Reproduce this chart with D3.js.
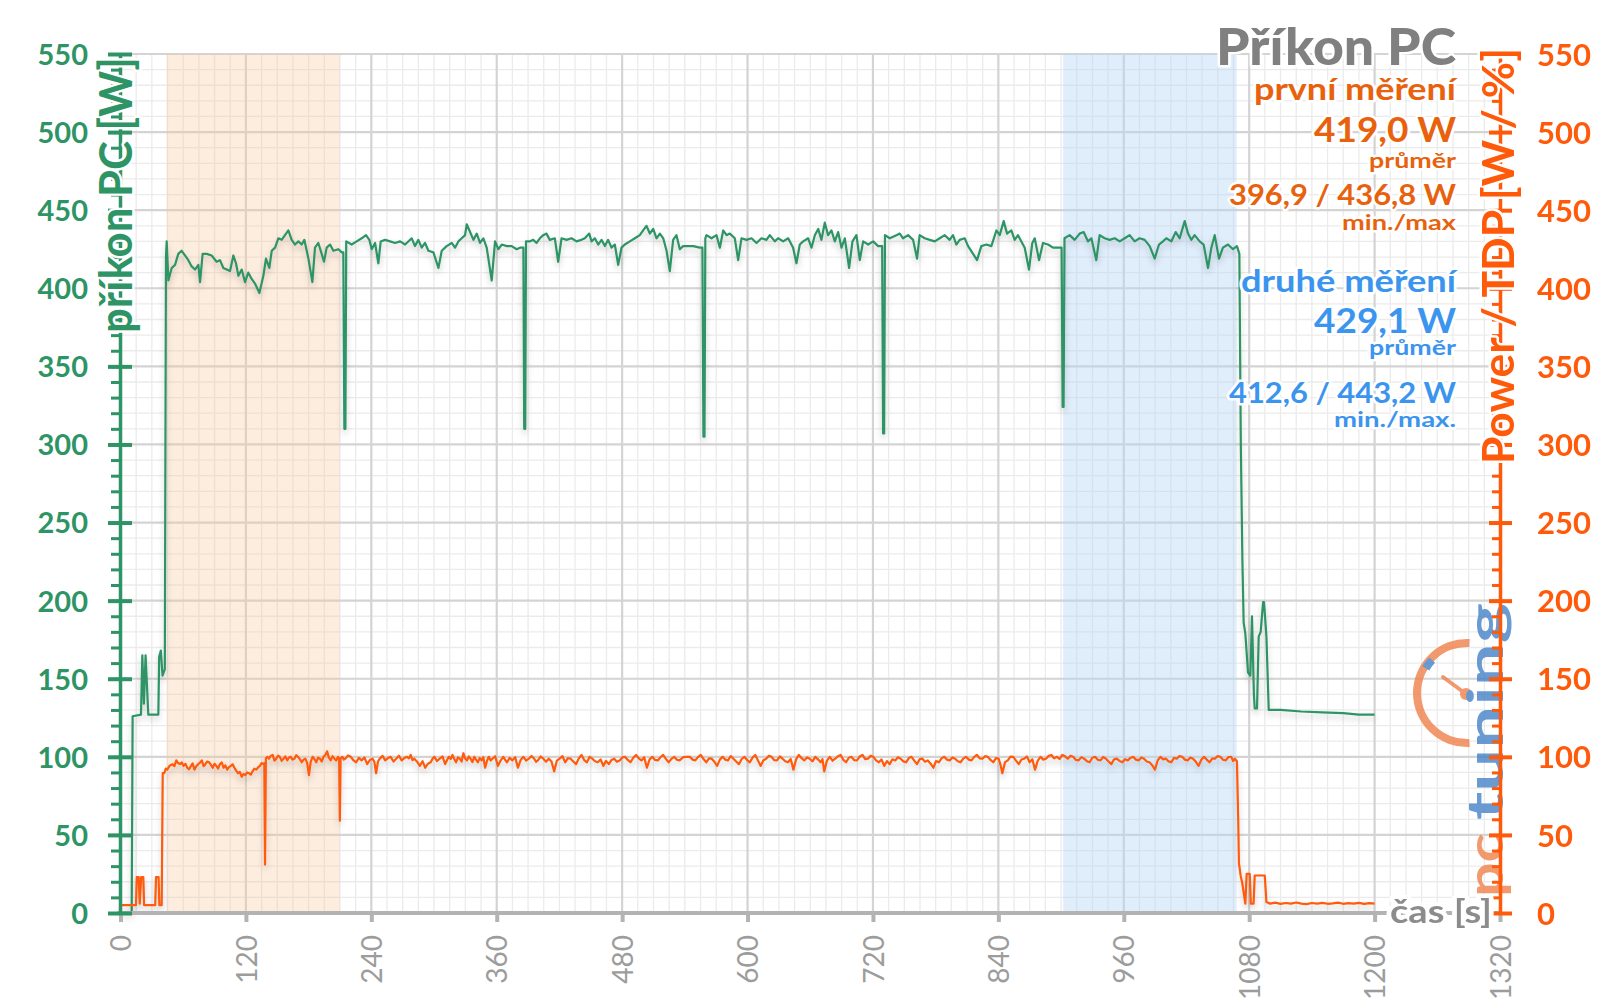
<!DOCTYPE html>
<html><head><meta charset="utf-8">
<script src="https://cdn.jsdelivr.net/npm/d3@7"></script>
<style>
body{margin:0;background:#fff;}
svg{display:block;font-family:Lato,"Open Sans",sans-serif;}
</style>
</head><body>
<svg id="c" width="1600" height="1008"></svg>
<script>
// ---------- data ----------
const xTicks = [0,120,240,360,480,600,720,840,960,1080,1200,1320];
const yTicks = [0,50,100,150,200,250,300,350,400,450,500,550];
const orangeBand = [44, 210];
const blueBand = [902, 1068];

const greenData = [[0,0],[10.7,0],[11.6,126],[19.6,127],[20.9,165],[22.4,134],[24,165],[26.6,127],[36.2,127],[37,164],[38.6,168],[40.2,152],[42.4,156],[43.5,420],[44.2,430],[45.8,405],[49,413],[52.2,415],[55.3,422],[58.5,424],[61.7,421],[64.9,418],[68.1,414],[71.3,412],[74.5,415],[76.1,404],[78.6,422],[82.5,422],[87.2,421],[92,417],[95.2,418],[98.4,413],[101.6,412],[104.8,411],[108,421],[110.5,416],[112.8,408],[116,412],[119.1,404],[122.3,410],[125.5,406],[128.7,403],[132.9,397],[136.7,408],[139.2,419],[142.4,413],[144.7,424],[147.9,426],[151,432],[154.2,431],[157.4,434],[160.6,437],[163.8,431],[167,428],[170.2,430],[173.4,428],[175.9,431],[179.8,419],[183.6,404],[186.1,426],[189.3,429],[192.5,422],[194.7,417],[197.3,426],[200.5,428],[203.7,424],[208.5,425],[211.7,423],[213.2,423],[214.2,310],[215.2,310],[216,430],[221.2,428],[226,430],[230.8,432],[234.9,434],[238.1,431],[240.4,425],[243.6,429],[246.7,416],[249,430],[253.1,431],[257.9,430],[262.7,429],[267.5,430],[272.3,428],[275.4,430],[278.6,432],[281.8,427],[285,431],[288.2,426],[291.4,429],[294.6,424],[299.4,423],[304.2,413],[307.4,424],[312.1,427],[316.9,429],[320.1,426],[323.3,430],[326.5,432],[329.7,434],[331.3,441],[334.5,436],[337.7,431],[340.9,435],[344,429],[347.2,432],[350.4,426],[355.2,405],[358.4,430],[361.6,425],[364.8,428],[369.6,427],[374.3,427],[379.1,425],[382.3,426],[385.5,426],[386.3,310],[387.3,310],[388,430],[391.7,430],[394.9,431],[398.1,429],[401.3,432],[404.5,434],[407.6,435],[410.8,431],[415.6,432],[418.8,417],[422,432],[426.8,431],[431.6,432],[436.3,430],[441.1,431],[444.3,432],[448.5,435],[450.7,430],[453.9,432],[457.1,428],[460.3,431],[463.5,427],[466.6,431],[469.8,426],[473,428],[476.2,415],[479.4,426],[482.6,428],[487.4,430],[492.2,432],[496.9,434],[500.1,437],[503.3,440],[506.5,435],[509.7,438],[512.9,432],[516.1,435],[519.3,432],[522.5,424],[525.6,411],[528.8,431],[532,434],[535.2,425],[538.4,427],[543.2,427],[548,427],[554.3,426],[556.8,426],[557.8,305],[558.8,305],[559.6,432],[560.7,434],[565.5,432],[570.3,434],[573.5,426],[576.7,437],[579.9,434],[583,435],[587.8,432],[591,418],[594.2,432],[599,431],[603.8,432],[608.6,429],[613.3,432],[618.1,431],[621.3,434],[626.1,430],[629.3,432],[634.1,430],[638.9,432],[643.6,426],[646.8,416],[650,428],[653.2,430],[658,432],[661.2,426],[664.4,434],[667.6,438],[670.7,431],[673.9,442],[677.1,434],[680.3,437],[683.5,430],[686.7,436],[689.9,426],[693.1,432],[697.2,413],[700.4,430],[704.2,434],[707.4,418],[710.6,430],[715.4,428],[720.2,430],[724.9,427],[728.8,427],[729.7,307],[730.7,307],[731.5,434],[736.1,432],[742.5,434],[745.6,435],[748.8,432],[753.6,434],[758.4,431],[762.2,419],[764.7,434],[769.5,432],[774.3,431],[779.1,430],[783.9,432],[788.7,434],[793.4,431],[796.6,434],[799.8,428],[803,431],[807.8,432],[811,427],[815.8,422],[819.6,418],[823.7,427],[828.5,428],[833.3,427],[838.1,437],[841.3,434],[845.1,443],[848.3,435],[852.4,437],[855.6,431],[858.8,434],[862,430],[865.2,426],[869.3,412],[872.5,429],[874.8,432],[878.9,418],[882.7,429],[887.5,428],[892.3,426],[897.1,426],[900.5,426],[901.5,324],[902.4,324],[903.3,432],[908.2,434],[913,431],[917.8,435],[921.6,436],[925.8,430],[929,432],[933.7,418],[936.9,434],[941.7,432],[946.5,431],[951.3,432],[956.1,430],[960.9,432],[965.6,434],[970.4,430],[975.2,432],[980,431],[984.8,427],[989.6,419],[993.7,428],[997.5,430],[1000.7,432],[1005.5,430],[1009.7,436],[1013.5,432],[1018.3,443],[1021.5,435],[1024.6,431],[1027.8,434],[1032.6,430],[1036.4,428],[1040.6,413],[1043.8,426],[1047,434],[1051.1,419],[1054.9,426],[1059.7,428],[1064.5,425],[1068.3,427],[1070.6,422],[1072,300],[1073.5,226],[1074.7,186],[1076.3,179],[1078.9,154],[1081.1,152],[1082.7,190],[1084.5,140],[1085.3,131],[1087.5,131],[1089.1,177],[1091,180],[1093.3,199],[1094.2,199],[1096.5,177],[1098.7,130],[1110,130],[1130,129],[1150,128.5],[1170,128],[1185,127],[1200,127]];

const orangeData = [[0,5],[14.8,5],[15.6,23],[17.4,23],[18.4,6],[19.8,23],[21.8,23],[22.6,5],[33.2,5],[34,23],[36.4,23],[37.2,5],[39.4,5],[40.4,89.5],[41.9,89.5],[43.3,92.5],[44.7,91.8],[47.3,94.5],[49.9,95.3],[51.6,94],[53.4,97.7],[55.1,96],[56.9,95.3],[58.6,96.4],[60.4,94.2],[62.1,95.5],[63.9,93],[65.6,92],[67.3,94],[69,95.8],[70.8,91.8],[72.5,94],[74.3,95.3],[76,96.2],[77.8,97.7],[79.5,94],[81.2,95.3],[83,97],[84.7,96.5],[86.4,95],[88.2,93],[90,95.5],[91.7,94.2],[93.4,92.5],[95.1,95.3],[96.9,96.4],[98.6,93],[100.3,94.5],[102.1,91.8],[103.8,93.4],[105.6,94.2],[107.3,95.2],[109,93],[110.8,91],[112.5,89.5],[114.2,90.4],[116,87.2],[117.7,89],[119.5,88.3],[121.2,90],[122.9,89.5],[124.7,88.6],[126.4,90.7],[128.1,92.4],[129.9,91.8],[131.6,93.2],[133.4,94.2],[135.1,96],[136.9,95.3],[137.6,96],[138.3,31],[139.1,99],[140.6,100],[142.1,98.8],[143.8,100.6],[145.6,101.2],[147.3,97.5],[149,98.8],[150.8,100.8],[152.5,100],[154.2,97.4],[156,98.8],[157.7,100.3],[159.5,97.7],[161.2,99.5],[162.9,100],[164.6,98.2],[166.4,98.8],[168.1,101],[169.9,100],[171.6,98.5],[173.4,96.5],[175.1,98.2],[176.9,98.8],[178.6,96],[180.3,88.3],[182,96.8],[183.8,100],[185.5,98.6],[187.3,96.5],[189,99.5],[190.8,98.8],[192.5,97],[194.2,100],[196,101.2],[197.7,103.5],[199.4,99.5],[201.2,97.7],[202.9,100.4],[204.7,98.8],[206.4,97.6],[208.1,100],[209.2,99],[209.9,59],[210.6,99],[212.3,100],[213.7,98.2],[215.1,98.8],[217.7,100.9],[220.3,100],[222.9,97.8],[225.5,96.5],[228.1,99.3],[230.7,97.7],[233.4,99.6],[236,95.3],[238.6,97.9],[241.2,98.8],[242.9,96.8],[244.6,89.5],[246.4,97],[248.1,98.8],[250.7,100.6],[253.3,97.7],[255.9,99.2],[258.5,100],[261.2,97],[263.8,98.8],[266.4,100.7],[269,97.7],[271.6,99.2],[274.2,100],[276,99],[277.7,101.2],[279.4,97.8],[281.2,98.8],[283.8,96.9],[286.4,94.2],[289,97.2],[291.6,93],[294.2,95.6],[296.8,96.5],[298.6,98.7],[300.3,100],[302.9,97.3],[305.5,98.8],[308.1,100.3],[310.7,95.3],[312.5,98],[314.2,100],[316,98.6],[317.7,101.2],[319.4,98.5],[321.1,96.5],[322.9,99.6],[324.6,98.8],[326.4,97],[328.1,102.3],[329.8,99],[331.6,97.7],[333.3,100.2],[335,98.8],[336.8,96.6],[338.5,100],[340.2,98.2],[342,96.5],[343.7,99.3],[345.5,97.7],[347.2,99.8],[348.9,93],[350.7,97.5],[352.4,100],[354.2,97.6],[355.9,98.8],[358.5,100.4],[361.1,94.2],[363.7,97.6],[366.3,100],[368,98.1],[369.8,96.5],[372.4,99.3],[375,97.7],[377.6,99.8],[380.3,93],[382.9,98],[385.5,100],[388.1,97.6],[390.7,98.8],[393.3,100.5],[395.9,98.8],[397.6,96.8],[399.4,97.7],[402,100.2],[404.6,98.8],[407.2,96.9],[409.8,98.8],[412.4,97],[415,90.7],[417.6,97.6],[420.2,98.8],[422.9,100.4],[425.5,96.5],[428.1,99.1],[430.7,98.8],[433.3,97],[435.9,95.3],[438.5,99],[441.1,101.2],[443.7,97.9],[446.3,96.5],[448.9,100],[451.5,98.8],[454.1,97.2],[456.7,96.5],[459.4,98.3],[462,94.2],[464.6,97.4],[467.2,95.3],[469.8,98],[472.4,98.8],[475,96.8],[477.6,97.7],[480.2,99.6],[482.8,100],[485.4,98],[488,96.5],[490.7,99.4],[493.3,101.2],[495.9,99],[498.5,97.7],[501.1,99.7],[503.7,93],[506.3,98.4],[508.9,100],[511.5,98],[514.1,97.7],[516.7,99.7],[519.3,101.2],[521.9,98.6],[524.5,96.5],[527.2,98.7],[529.8,100],[532.4,98.1],[535,97.7],[538.5,99.8],[541.9,100],[544.8,100],[547.4,98.2],[550,97.7],[552.6,99.8],[555.2,101.2],[557.9,98.6],[560.5,96.5],[563.1,99],[565.7,98.8],[568.3,96.8],[570.9,94.2],[573.5,98.2],[576.1,100],[578.7,98.2],[581.3,97.7],[583.9,100.5],[586.5,98.8],[589.1,97],[591.7,95.3],[594.4,98.6],[597,100],[599.6,97.9],[602.2,96.5],[604.8,99.5],[607.4,101.2],[610,97.6],[612.6,94.2],[615.2,97.8],[617.8,98.8],[620.4,100.6],[623,100],[625.6,97.8],[628.2,97.7],[630.9,100.3],[633.5,98.8],[636.1,97.2],[638.7,96.5],[641.3,98.6],[643.9,91.8],[646.5,98.4],[649.1,101.2],[651.7,99.1],[654.3,97.7],[656.9,99.6],[659.5,98.8],[662.2,97.1],[664.8,100],[667.4,98.4],[670,96.5],[671.7,98.5],[673.4,90.7],[676,97.6],[678.7,100],[681.3,97.5],[683.9,98.8],[686.5,100.4],[689.1,101.2],[691.7,98],[694.3,96.5],[696.9,99.4],[699.5,100],[702.1,97.8],[704.7,97.7],[707.4,100.2],[710,101.2],[712.6,98.5],[715.2,98.8],[717.8,100.6],[720.4,100],[723,97.7],[725.6,96.5],[728.2,98.3],[730.8,94.2],[733.4,97.3],[736,95.3],[738.6,98.4],[741.3,97.7],[743.9,99.7],[746.5,98.8],[749.1,97.1],[751.7,96.5],[754.3,99.2],[756.9,100],[759.5,97.6],[762.1,95.3],[764.7,98.5],[767.3,98.8],[769.9,96.9],[772.5,97.7],[775.2,95.6],[777.8,93],[780.4,97.3],[783,96.5],[785.6,99],[788.2,100],[790.8,98.2],[793.4,97.7],[796,99.6],[798.6,98.8],[801.2,97.2],[803.8,96.5],[806.4,98.8],[809,100],[811.7,98.2],[814.3,97.7],[816.9,100],[819.5,101.2],[822.1,99],[824.7,98.8],[827.3,100.4],[829.9,100],[832.5,98],[835.1,96.5],[837.7,99.2],[840.3,98.8],[842,95],[843.8,89.5],[846.4,96.6],[849,97.7],[851.6,100.1],[854.2,100],[856.9,97.6],[859.5,95.3],[862.1,98.3],[864.7,98.8],[867.3,100.2],[869.9,96.5],[872.5,98.4],[875.1,91.8],[877.7,97.6],[880.3,100],[882.9,98.2],[885.5,98.8],[888.2,100.6],[890.8,101.2],[893.4,99],[896,100],[898.6,98.6],[901.2,101.2],[903.8,100.3],[906.4,98.8],[909,100.6],[911.6,100],[914.2,98],[916.8,97.7],[919.4,99.8],[922,98.8],[924.7,97.2],[927.3,96.5],[929.9,99.4],[932.5,100],[935.1,98.1],[937.7,97.7],[940.3,99.9],[942.9,98.8],[945.5,97],[948.1,95.3],[950.7,98.4],[953.3,98.8],[955.9,97.4],[958.6,96.5],[961.2,98.5],[963.8,97.7],[966.4,99.3],[969,100],[971.6,98.2],[974.2,97.7],[976.8,99.6],[979.4,98.8],[982,97],[984.6,96.5],[987.2,94.6],[989.8,91.8],[992.5,97.8],[995.1,100],[997.7,98.4],[1000.3,98.8],[1002.9,97.1],[1005.5,96.5],[1008.1,99.3],[1010.7,98.8],[1013.3,100.5],[1015.9,100],[1018.5,98.2],[1021.1,97.7],[1023.7,99.5],[1026.3,98.8],[1029,96.8],[1031.6,94.2],[1034.2,98.1],[1036.8,100],[1039.4,98.2],[1042,96.5],[1044.6,98.9],[1047.2,98.8],[1049.8,100.5],[1052.4,100],[1055,98.1],[1057.6,97.7],[1060.2,99.9],[1062.9,100],[1064.6,97.3],[1066.3,98.8],[1068.3,97],[1069.5,60],[1070.2,32],[1071.8,24],[1073.4,19],[1076.3,6],[1077.6,25],[1080.5,25],[1081.6,6],[1084.2,6],[1085.3,24],[1094.9,24],[1096.5,7],[1100,6],[1105,6.6],[1110,5.8],[1115,6.4],[1120,6],[1125,6.7],[1130,6],[1135,5.7],[1140,6.4],[1145,6],[1150,6.5],[1155,5.9],[1160,6.2],[1165,6.6],[1170,5.9],[1175,6.3],[1180,6],[1185,6.5],[1190,5.8],[1195,6.3],[1200,6]];

const titleText = "Příkon PC";
const run1Lines = ["první měření", "419,0 W", "průměr", "396,9 / 436,8 W", "min./max"];
const run2Lines = ["druhé měření", "429,1 W", "průměr", "412,6 / 443,2 W", "min./max."];
const leftTitle = "příkon PC [W]";
const rightTitle = "Power / TDP [W / %]";
const xTitle = "čas [s]";

// ---------- chart ----------
const svg = d3.select("#c");
const GREEN = "#2e9466", ORANGE = "#ff5a0a", RUN1 = "#e8620e", RUN2 = "#3b95ee";
const x = d3.scaleLinear().domain([0,1320]).range([120.5,1500]);
const y = d3.scaleLinear().domain([0,550]).range([913,54]);

const defs = svg.append("defs");
const f = defs.append("filter").attr("id","sh").attr("x","-2%").attr("y","-5%").attr("width","104%").attr("height","115%");
f.append("feDropShadow").attr("dx",0).attr("dy",4).attr("stdDeviation",3).attr("flood-color","#000").attr("flood-opacity",0.2);

// grid
const grid = svg.append("g");
grid.selectAll(".vmin").data(d3.range(0,1321,15)).join("line")
  .attr("x1",d=>x(d)).attr("x2",d=>x(d)).attr("y1",y(550)).attr("y2",y(0))
  .attr("stroke","#ebebeb").attr("stroke-width",1.3);
grid.selectAll(".hmin").data(d3.range(0,551,10)).join("line")
  .attr("x1",x(0)).attr("x2",x(1320)).attr("y1",d=>y(d)).attr("y2",d=>y(d))
  .attr("stroke","#ebebeb").attr("stroke-width",1.3);
grid.selectAll(".vmaj").data(xTicks).join("line")
  .attr("x1",d=>x(d)).attr("x2",d=>x(d)).attr("y1",y(550)).attr("y2",y(0))
  .attr("stroke","#d4d4d4").attr("stroke-width",2.2);
grid.selectAll(".hmaj").data(yTicks).join("line")
  .attr("x1",x(0)).attr("x2",x(1320)).attr("y1",d=>y(d)).attr("y2",d=>y(d))
  .attr("stroke","#d4d4d4").attr("stroke-width",2.2);

// bands
svg.append("rect").attr("x",x(orangeBand[0])).attr("width",x(orangeBand[1])-x(orangeBand[0]))
  .attr("y",y(550)).attr("height",y(0)-y(550)).attr("fill","#f9c89a").attr("opacity",0.32);
svg.append("rect").attr("x",x(blueBand[0])).attr("width",x(blueBand[1])-x(blueBand[0]))
  .attr("y",y(550)).attr("height",y(0)-y(550)).attr("fill","#b5d3f5").attr("opacity",0.42);

// logo
const logo = svg.append("g").attr("opacity",0.78);
const cx = 1467, cy = 693;
logo.append("path").attr("transform",`translate(${cx},${cy})`)
  .attr("d", d3.arc().innerRadius(46).outerRadius(54).startAngle(Math.PI-0.05).endAngle(2*Math.PI+0.05)())
  .attr("fill","#ef7d45");
logo.append("path").attr("transform",`translate(${cx},${cy})`)
  .attr("d", d3.arc().innerRadius(44).outerRadius(52).startAngle(5.25).endAngle(5.47)())
  .attr("fill","#3f7fc6");
logo.append("line").attr("x1",cx-1).attr("y1",cy+1).attr("x2",cx-24).attr("y2",cy-16)
  .attr("stroke","#ef7d45").attr("stroke-width",4).attr("stroke-linecap","round");
logo.append("circle").attr("cx",cx-1).attr("cy",cy+1).attr("r",6).attr("fill","#ef7d45");
logo.append("text").attr("transform","translate(1503,897) rotate(-90)")
  .attr("font-size",50).attr("font-weight",700).attr("fill","#ef7d45")
  .attr("textLength",64).attr("lengthAdjust","spacingAndGlyphs").text("pc");
logo.append("text").attr("transform","translate(1503,820) rotate(-90)")
  .attr("font-size",50).attr("font-weight",700).attr("fill","#3f7fc6")
  .attr("textLength",217).attr("lengthAdjust","spacingAndGlyphs").text("tuning");

// lines
const line = d3.line().x(d=>x(d[0])).y(d=>y(d[1]));
svg.append("path").datum(greenData).attr("d",line).attr("fill","none")
  .attr("stroke",GREEN).attr("stroke-width",2.2).attr("stroke-linejoin","round").attr("filter","url(#sh)");
svg.append("path").datum(orangeData).attr("d",line).attr("fill","none")
  .attr("stroke",ORANGE).attr("stroke-width",2.2).attr("stroke-linejoin","round").attr("filter","url(#sh)");

// bottom axis
const xAxis = svg.append("g").attr("transform",`translate(0,${y(0)})`)
  .call(d3.axisBottom(x).tickValues(xTicks).tickFormat(d3.format("d")).tickSizeInner(9).tickSizeOuter(0));
xAxis.select(".domain").attr("stroke","#b3b3b3").attr("stroke-width",4).attr("d",`M${x(0)-3},0H${x(1320)}`);
xAxis.selectAll(".tick line").attr("stroke","#b3b3b3").attr("stroke-width",4);
xAxis.selectAll(".tick text").attr("transform","rotate(-90)").attr("x",-22).attr("y",0).attr("dy","0.36em")
  .attr("text-anchor","end").attr("font-size",28).attr("font-family","Lato").attr("fill","#9c9c9c");

// left axis
const lMinor = svg.append("g").attr("transform",`translate(${x(0)-0.5},0)`)
  .call(d3.axisLeft(y).tickValues(d3.range(0,551,10)).tickSize(9).tickFormat(""));
lMinor.select(".domain").remove();
lMinor.selectAll(".tick line").attr("stroke",GREEN).attr("stroke-width",3);
const lAxis = svg.append("g").attr("transform",`translate(${x(0)-0.5},0)`)
  .call(d3.axisLeft(y).tickValues(yTicks).tickSizeInner(12).tickSizeOuter(0).tickPadding(20));
lAxis.select(".domain").attr("stroke",GREEN).attr("stroke-width",3.5);
lAxis.selectAll(".tick line").attr("x1",12).attr("x2",-12).attr("stroke",GREEN).attr("stroke-width",4);
lAxis.selectAll(".tick text").attr("font-size",29).attr("font-weight",700).attr("font-family","Lato")
  .attr("fill",GREEN).attr("dy","0.36em");

// right axis
const rMinor = svg.append("g").attr("transform",`translate(${x(1320)},0)`)
  .call(d3.axisLeft(y).tickValues(d3.range(0,551,10)).tickSize(8).tickFormat(""));
rMinor.select(".domain").remove();
rMinor.selectAll(".tick line").attr("stroke",ORANGE).attr("stroke-width",3);
const rAxis = svg.append("g").attr("transform",`translate(${x(1320)},0)`)
  .call(d3.axisRight(y).tickValues(yTicks).tickSizeInner(12).tickSizeOuter(0).tickPadding(25));
rAxis.select(".domain").attr("stroke",ORANGE).attr("stroke-width",3.5);
rAxis.selectAll(".tick line").attr("x1",-11).attr("x2",12).attr("stroke",ORANGE).attr("stroke-width",4);
rAxis.selectAll(".tick text").attr("font-size",31).attr("font-weight",700).attr("font-family","Lato")
  .attr("fill",ORANGE).attr("dy","0.36em");

// texts with halo
function halo(sel, sw){ return sel.attr("stroke","#fff").attr("stroke-width",sw).attr("stroke-linejoin","round").attr("paint-order","stroke"); }
function label(txt, px, py, size, color, len, rot, weight){
  const t = svg.append("text")
    .attr("transform", rot ? `translate(${px},${py}) rotate(-90)` : `translate(${px},${py})`)
    .attr("text-anchor","end").attr("font-size",size).attr("font-weight",weight||700).attr("fill",color)
    .attr("textLength",len).attr("lengthAdjust","spacingAndGlyphs").text(txt);
  return halo(t, 5);
}
label(leftTitle, 132, 57, 46, GREEN, 276, true);
label(rightTitle, 1514, 48, 44, ORANGE, 416, true);
label(xTitle, 1492, 923, 32, "#8c8c8c", 102, false).attr("stroke-width",8);

label(titleText, 1456, 65, 52, "#808080", 240, false, 900);
const run1Pos = [[100,31,202],[142,35,142],[168,21,87],[205,29,227],[230,21,114]];
const run2Pos = [[292,31,215],[333,35,142],[355,21,87],[403,29,227],[427,21,122]];
run1Lines.forEach((s,i)=>label(s, 1456, run1Pos[i][0], run1Pos[i][1], RUN1, run1Pos[i][2], false));
run2Lines.forEach((s,i)=>label(s, 1456, run2Pos[i][0], run2Pos[i][1], RUN2, run2Pos[i][2], false));
</script>
</body></html>
